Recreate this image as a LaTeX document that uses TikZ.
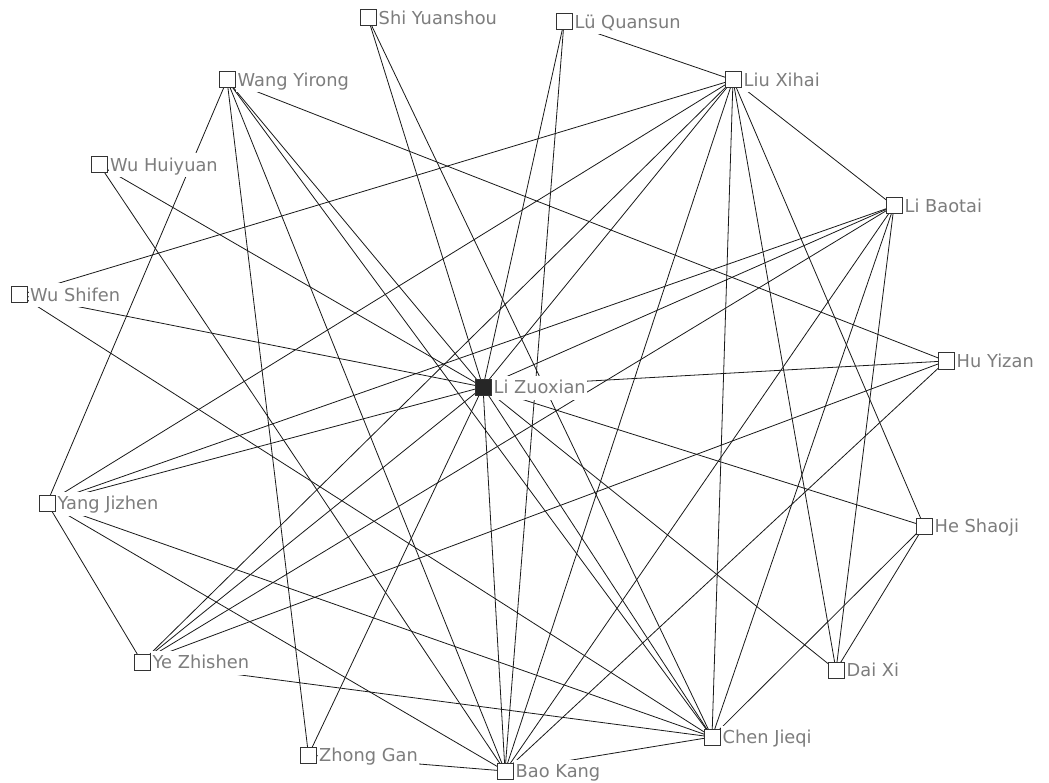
\documentclass[tikz,border=0pt]{standalone}
\usepackage{fontspec}
\setmainfont{DejaVu Sans}
\usetikzlibrary{backgrounds}
\definecolor{lblgray}{RGB}{125,125,125}
\definecolor{edgecol}{RGB}{25,25,25}
\tikzset{
  pbox/.style={draw=black!80, line width=1pt, fill=white, rectangle, minimum size=16pt, inner sep=0pt},
  egobox/.style={pbox, fill=black!85},
  lbl/.style={anchor=base west, fill=white, text=lblgray, font=\fontsize{17.8}{20}\selectfont, inner xsep=1.5pt, inner ysep=3pt, text height=15pt, text depth=3pt},
  tie/.style={draw=edgecol, line width=0.8pt},
}
\begin{document}
\begin{tikzpicture}[x=1pt,y=-1pt]
\useasboundingbox (0,0) rectangle (1049,783);
% boxes
\node[egobox] (liz) at (483,387) {};
\node[pbox] (shi) at (368,18) {};
\node[pbox] (lu) at (564,22) {};
\node[pbox] (liu) at (733,80) {};
\node[pbox] (wang) at (227,80) {};
\node[pbox] (wuh) at (99.5,165) {};
\node[pbox] (wus) at (19.5,295) {};
\node[pbox] (lib) at (894,206) {};
\node[pbox] (hu) at (946,361) {};
\node[pbox] (yang) at (47,503) {};
\node[pbox] (ye) at (142,662) {};
\node[pbox] (zhong) at (308.5,755) {};
\node[pbox] (bao) at (505,771) {};
\node[pbox] (chen) at (712,737) {};
\node[pbox] (dai) at (836,670) {};
\node[pbox] (he) at (924,526) {};
% labels
\node[lbl] (liz-l) at (492,393.5) {Li Zuoxian};
\node[lbl] (shi-l) at (377,24.5) {Shi Yuanshou};
\node[lbl] (lu-l) at (573,28.5) {Lü Quansun};
\node[lbl] (liu-l) at (742,86.5) {Liu Xihai};
\node[lbl] (wang-l) at (236,86.5) {Wang Yirong};
\node[lbl] (wuh-l) at (108.5,171.5) {Wu Huiyuan};
\node[lbl] (wus-l) at (28.5,301.5) {Wu Shifen};
\node[lbl] (lib-l) at (903,212.5) {Li Baotai};
\node[lbl] (hu-l) at (955,367.5) {Hu Yizan};
\node[lbl] (yang-l) at (56,509.5) {Yang Jizhen};
\node[lbl] (ye-l) at (151,668.5) {Ye Zhishen};
\node[lbl] (zhong-l) at (317.5,761.5) {Zhong Gan};
\node[lbl] (bao-l) at (514,777.5) {Bao Kang};
\node[lbl] (chen-l) at (721,743.5) {Chen Jieqi};
\node[lbl] (dai-l) at (845,676.5) {Dai Xi};
\node[lbl] (he-l) at (933,532.5) {He Shaoji};
\begin{scope}[on background layer]
\fill[white] (0,0) rectangle (1049,783);
\foreach \o in {shi,lu,liu,wang,wuh,wus,lib,hu,yang,ye,zhong,bao,chen,dai,he}
  \draw[tie] (liz.center) -- (\o.center);
\foreach \a/\b in {shi/chen, lu/bao, lu/liu,
  wang/yang, wang/hu, wang/zhong, wang/bao, wang/chen,
  wuh/bao, wus/liu, wus/chen,
  liu/lib, liu/yang, liu/ye, liu/bao, liu/chen, liu/dai, liu/he,
  lib/yang, lib/ye, lib/bao, lib/chen, lib/dai,
  hu/ye, hu/bao, he/dai, he/chen,
  yang/ye, yang/bao, yang/chen, ye/chen, zhong/bao, bao/chen}
  \draw[tie] (\a.center) -- (\b.center);
\end{scope}
\end{tikzpicture}
\end{document}
